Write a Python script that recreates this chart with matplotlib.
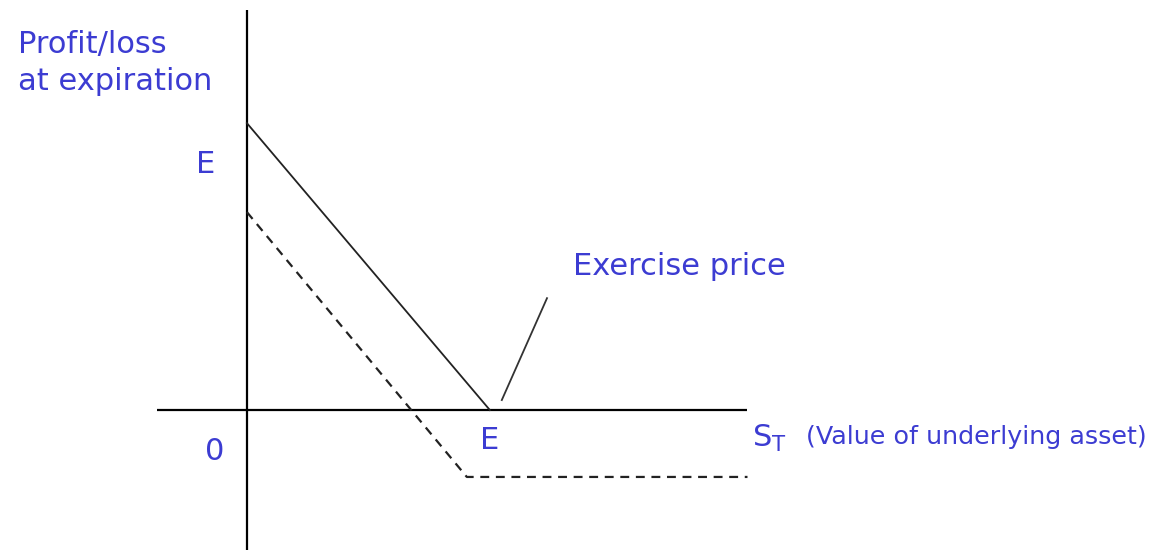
import numpy as np
import matplotlib.pyplot as plt

# payoff diagram, units: E = 10 on the price axis, E = 10 on the profit axis
E = 10
s_solid = [0, 10]
p_solid = [10, 0]

s_dash = [0, 9.05, 20.6]
p_dash = [6.9, -2.33, -2.33]

x_axis = [-3.7, 20.6]
y_axis = [-4.88, 13.94]

pointer_s = [10.49, 12.35]
pointer_p = [0.35, 3.9]

blue = '#3c3cd2'

fig = plt.figure(figsize=(11.64, 5.53), dpi=100)
ax = fig.add_axes([0, 0, 1, 1])
ax.set_xlim(-10.16, 37.74)
ax.set_ylim(-4.98, 14.29)
ax.axis('off')

# axes
ax.plot(x_axis, [0, 0], color='black', lw=1.6, solid_capstyle='butt')
ax.plot([0, 0], y_axis, color='black', lw=1.6, solid_capstyle='butt')

# long put payoff (solid) and profit (dashed)
ax.plot(s_solid, p_solid, color='#222222', lw=1.3)
ax.plot(s_dash, p_dash, color='#222222', lw=1.6, ls=(0, (4, 3)))

# pointer to exercise price
ax.plot(pointer_s, pointer_p, color='#333333', lw=1.3)

fs = 22
ax.text(-9.42, 13.25, 'Profit/loss\nat expiration', color=blue, fontsize=fs,
        ha='left', va='top', linespacing=1.35)
ax.text(-1.7, 8.55, 'E', color=blue, fontsize=fs, ha='center', va='center')
ax.text(E, -1.05, 'E', color=blue, fontsize=fs, ha='center', va='center')
ax.text(-1.32, -1.45, '0', color=blue, fontsize=fs, ha='center', va='center')
ax.text(13.4, 5.0, 'Exercise price', color=blue, fontsize=fs, ha='left', va='center')
ax.text(20.8, -1.0, r'$\mathregular{S_T}$', color=blue, fontsize=fs, ha='left', va='center')
ax.text(23.0, -0.95, '(Value of underlying asset)', color=blue, fontsize=18.3,
        ha='left', va='center')

fig.savefig('out.png', dpi=100, facecolor='white')
